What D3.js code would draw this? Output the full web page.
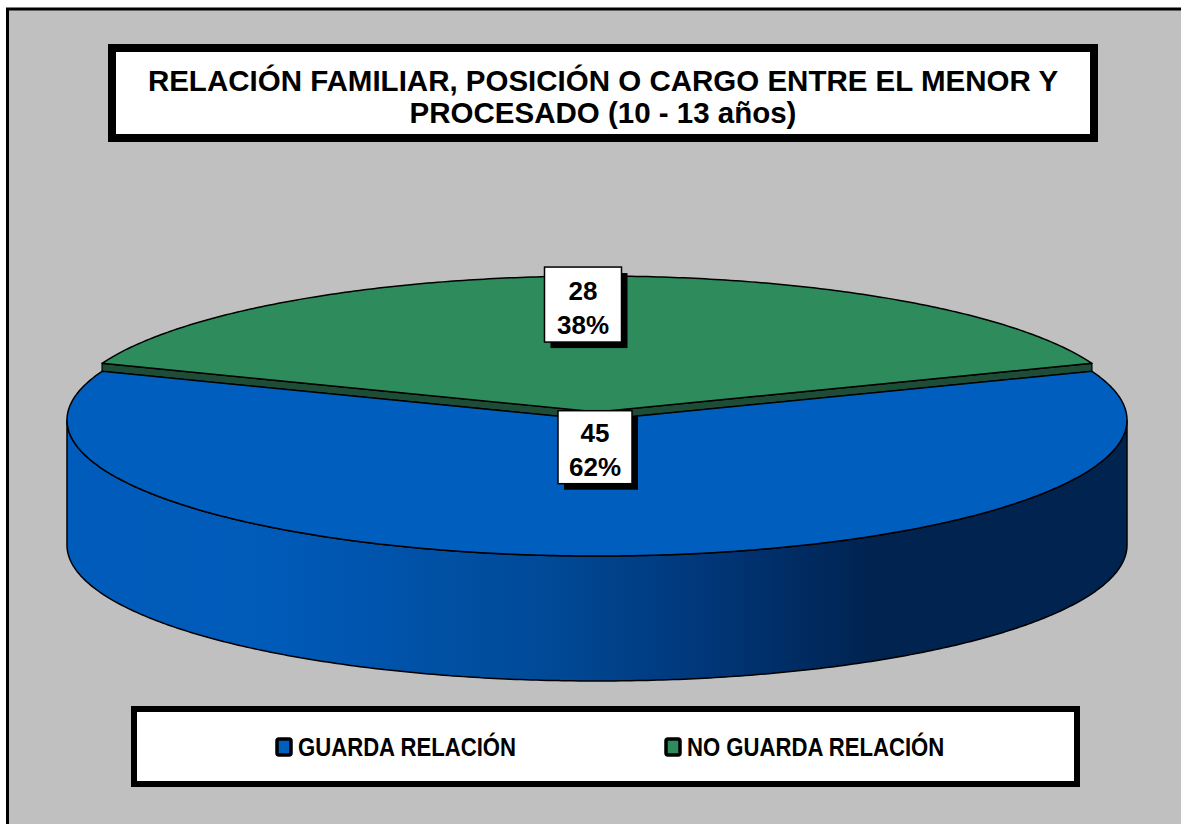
<!DOCTYPE html>
<html><head><meta charset="utf-8">
<script src="https://cdn.jsdelivr.net/npm/d3@7"></script>
<style>html,body{margin:0;padding:0;background:#fff;} svg{display:block;}</style>
</head><body>
<svg id="chart" width="1181" height="824"></svg>
<script>
const categories = ["GUARDA RELACIÓN", "NO GUARDA RELACIÓN"];
const values = [45, 28];
const colors = ["#005EBE", "#2E8B5C"];
const sideColors = ["#004a96", "#1d4d36"];
const titleLines = ["RELACIÓN FAMILIAR, POSICIÓN O CARGO ENTRE EL MENOR Y", "PROCESADO (10 - 13 años)"];
const explode = [0, 8];          // screen px pulled toward back
const labelRadius = [0.2, 0.79]; // fraction of radius for data labels

const W = 1181, H = 824;
const svg = d3.select("#chart");
const FONT = "'Liberation Sans', Arial, sans-serif";

// background frame
svg.append("rect").attr("x",0).attr("y",0).attr("width",W).attr("height",H).attr("fill","#fff");
svg.append("rect").attr("x",7.5).attr("y",9).attr("width",W+10).attr("height",H+10)
  .attr("fill","#c0c0c0").attr("stroke","#000").attr("stroke-width",3);

// title box
const tb = {x:112, y:48, w:982, h:90};
svg.append("rect").attr("x",tb.x).attr("y",tb.y).attr("width",tb.w).attr("height",tb.h)
  .attr("fill","#fff").attr("stroke","#000").attr("stroke-width",8);
svg.append("g").selectAll("text").data(titleLines).join("text")
  .attr("x", 603).attr("y",(d,i)=>91+i*32).attr("text-anchor","middle")
  .attr("font-family",FONT).attr("font-weight","bold").attr("font-size",29.5).attr("fill","#000")
  .text(d=>d);

// pie geometry
const cx = 597, cy = 420, rx = 530, ry = 136, depth = 125;
const total = d3.sum(values);
const blueSpan = 2*Math.PI*values[0]/total;
const pie = d3.pie().sort(null).startAngle(Math.PI - blueSpan/2).endAngle(Math.PI - blueSpan/2 + 2*Math.PI);
const arcs = pie(values);

const sx = d3.scaleLinear().domain([-1,1]).range([cx-rx, cx+rx]);
const sy = d3.scaleLinear().domain([-1,1]).range([cy-ry, cy+ry]);
function P(a, off, dz){ return [sx(Math.sin(a)) + off[0], sy(-Math.cos(a)) + off[1] + (dz||0)]; }
function arcPts(a0, a1, off, dz){
  const n = Math.max(2, Math.ceil(Math.abs(a1-a0)/0.01));
  return d3.range(n+1).map(i => P(a0 + (a1-a0)*i/n, off, dz));
}
const line = d3.line();

// gradient for the front wall
const defs = svg.append("defs");
const grad = defs.append("linearGradient").attr("id","wallGrad").attr("gradientUnits","userSpaceOnUse")
  .attr("x1",cx-rx).attr("x2",cx+rx).attr("y1",0).attr("y2",0);
[[0,"#005cbb"],[0.2,"#005ab8"],[0.45,"#004a98"],[0.6,"#00377a"],[0.76,"#002350"],[1,"#00234f"]]
  .forEach(s=>grad.append("stop").attr("offset",s[0]).attr("stop-color",s[1]));

const order = [1,0]; // back slice first
const gPie = svg.append("g");
order.forEach(i=>{
  const d = arcs[i];
  const mid = (d.startAngle+d.endAngle)/2;
  const off = [0, -Math.cos(mid)*explode[i]];
  const c = [cx+off[0], cy+off[1]];
  // cut faces
  [d.startAngle, d.endAngle].forEach(a=>{
    const p = P(a, off), q = P(a, off, depth);
    gPie.append("path").attr("d", line([c, p, q, [c[0], c[1]+depth]])+"Z")
      .attr("fill", sideColors[i]).attr("stroke","#000").attr("stroke-width",1.2);
  });
  // outer wall (front half only)
  const lo = Math.max(d.startAngle, Math.PI/2), hi = Math.min(d.endAngle, 3*Math.PI/2);
  if (hi > lo){
    const top = arcPts(lo, hi, off), bot = arcPts(hi, lo, off, depth);
    gPie.append("path").attr("d", line(top.concat(bot))+"Z")
      .attr("fill", i===0 ? "url(#wallGrad)" : sideColors[i]).attr("stroke","#000").attr("stroke-width",1.5);
  }
  // top
  gPie.append("path").attr("d", line([c].concat(arcPts(d.startAngle, d.endAngle, off)))+"Z")
    .attr("fill", colors[i]).attr("stroke","#000").attr("stroke-width",1.5).attr("stroke-linejoin","round");
});

// data labels
const fmt = d3.format(".0%");
arcs.forEach((d,i)=>{
  const mid = (d.startAngle+d.endAngle)/2;
  const off = [0, -Math.cos(mid)*explode[i]];
  const r = labelRadius[i];
  const lx = sx(Math.sin(mid)*r) + off[0] - (i===1?14:2);
  const ly = sy(-Math.cos(mid)*r) + off[1];
  const g = svg.append("g");
  const bw = i===1 ? 77 : 74, bh = i===1 ? 75 : 73;
  g.append("rect").attr("x",lx-bw/2+6).attr("y",ly-bh/2+6).attr("width",bw).attr("height",bh).attr("fill","#000");
  g.append("rect").attr("x",lx-bw/2).attr("y",ly-bh/2).attr("width",bw).attr("height",bh)
    .attr("fill","#fff").attr("stroke","#000").attr("stroke-width",1.5);
  g.selectAll("text").data([String(values[i]), fmt(values[i]/total)]).join("text")
    .attr("x",lx).attr("y",(t,k)=>ly-5+k*34).attr("text-anchor","middle")
    .attr("font-family",FONT).attr("font-weight","bold").attr("font-size",26).text(t=>t);
});

// legend
const lb = {x:134, y:709, w:943, h:75};
svg.append("rect").attr("x",lb.x).attr("y",lb.y).attr("width",lb.w).attr("height",lb.h)
  .attr("fill","#fff").attr("stroke","#000").attr("stroke-width",6);
const legX = [277, 666];
const leg = svg.append("g").selectAll("g").data(categories).join("g")
  .attr("transform",(d,i)=>`translate(${legX[i]},747)`);
leg.append("rect").attr("x",0).attr("y",-8).attr("width",14).attr("height",16).attr("rx",2)
  .attr("fill",(d,i)=>colors[i]).attr("stroke","#000").attr("stroke-width",3.5);
leg.append("text").attr("x",21).attr("y",9).attr("font-family",FONT)
  .attr("font-weight","bold").attr("font-size",25).text(d=>d)
  .each(function(){ const w=this.getComputedTextLength(); d3.select(this).attr("textLength", w*0.885).attr("lengthAdjust","spacingAndGlyphs"); });
</script>
</body></html>
